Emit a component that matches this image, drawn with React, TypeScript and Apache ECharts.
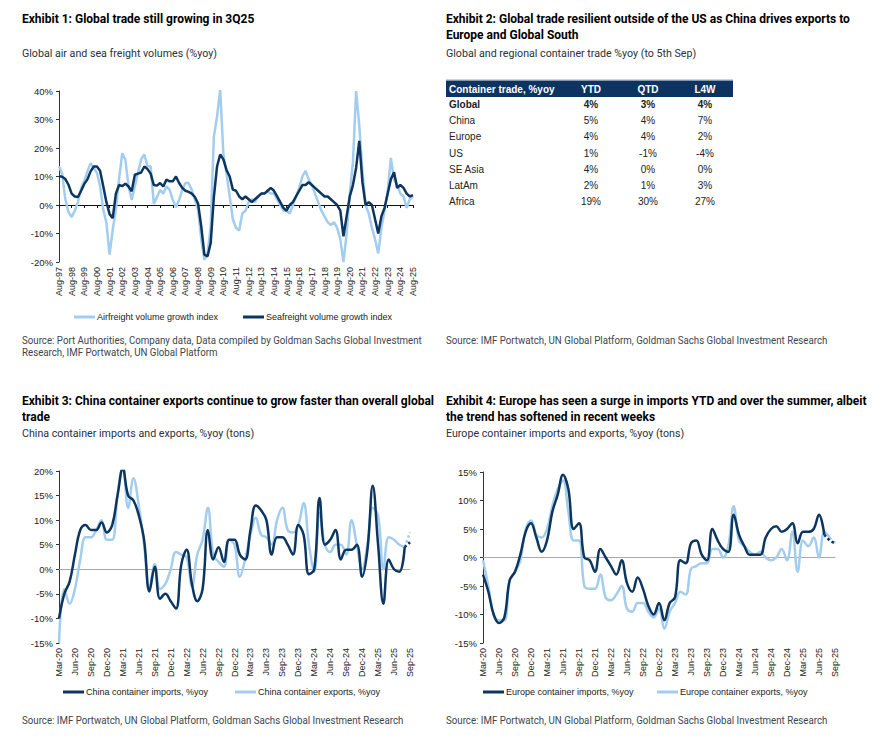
import React, { useEffect, useRef } from "react";
import * as echarts from "echarts";

// ---------- Exhibit 1 data (quarterly readings, Aug-97 .. Aug-25) ----------
const exhibit1Ticks = [
  "Aug-97","Aug-98","Aug-99","Aug-00","Aug-01","Aug-02","Aug-03","Aug-04","Aug-05","Aug-06",
  "Aug-07","Aug-08","Aug-09","Aug-10","Aug-11","Aug-12","Aug-13","Aug-14","Aug-15","Aug-16",
  "Aug-17","Aug-18","Aug-19","Aug-20","Aug-21","Aug-22","Aug-23","Aug-24","Aug-25",
];
const airfreightGrowth = [
  13.6, 11, 2, -2.5, -4.2, -2, 1, 6, 8.5, 11.8, 14.7, 13, 11.3, 6.6, -1.6, -6.3, -17.4, -8.6, -1.6, 9,
  18.2, 15.9, 6.6, 1.8, 6.6, 11.3, 16, 17.7, 13.6, 13.6, 0.4, 2.8, 5.3, 4, 6.6, 5.3, 1.8, -0.8, 1.8, 5.3,
  7.7, 7.7, 5.3, 1.8, -1.6, -12, -19.2, -17, -7.5, 24, 31, 40.5, 18, 11, 3, -5, -8, -9, -3, -2,
  1, 2, 1, 3, 4, 4, 5, 4, 4, 2, 0, -2, -2, -3, 0, 3, 6, 10, 12, 9,
  7, 4, 1, -2, -4, -6, -7, -6, -8, -12, -20, -10, 4, 15, 40, 28, 12, 0, -3, -8,
  -12, -17, -8, -2, 5, 16.5, 9, 7, 4, 3, -1, 2, 3,
];
const seafreightGrowth = [
  10.1, 9.9, 9.1, 7.1, 4, 3, 2.8, 5, 7.4, 9, 11.8, 13.5, 13.5, 12, 6.6, 1, -3.2, -4.6, 4, 7,
  6.6, 7.5, 6.5, 4.8, 10.6, 11, 11.4, 13.5, 12.6, 11, 7, 6.8, 7.7, 6.5, 8.9, 8.3, 8.3, 10, 7.7, 6,
  5, 4.6, 4, 2.8, 0.5, -7.5, -17.4, -18, -13.3, 2.8, 13.5, 17.7, 16, 12.3, 10, 5.4, 5, 3, 2, 3,
  2, 1, 2, 3, 4, 4, 5, 6, 5, 3, 1, -1, -2, 0, 1, 3, 5, 7, 7, 8,
  7, 6, 5, 4, 3, 3, 2, 1, 0, -2, -11, -4, 3, 7, 13, 22.5, 8, 0, 1, 0,
  -5, -10, -4, -1, 4, 9, 11.5, 6, 7, 6, 4, 3, 3.5,
];

// ---------- Exhibit 2 table ----------
const tableHeader = ["Container trade, %yoy", "YTD", "QTD", "L4W"];
const tableRegions = ["Global", "China", "Europe", "US", "SE Asia", "LatAm", "Africa"];
const tableYTD = ["4%", "5%", "4%", "1%", "4%", "2%", "19%"];
const tableQTD = ["3%", "4%", "4%", "-1%", "0%", "1%", "30%"];
const tableL4W = ["4%", "7%", "2%", "-4%", "0%", "3%", "27%"];

// ---------- Exhibits 3 & 4 (monthly readings, Mar-20 .. Sep-25) ----------
const quarterTicks = [
  "Mar-20","Jun-20","Sep-20","Dec-20","Mar-21","Jun-21","Sep-21","Dec-21","Mar-22","Jun-22",
  "Sep-22","Dec-22","Mar-23","Jun-23","Sep-23","Dec-23","Mar-24","Jun-24","Sep-24","Dec-24",
  "Mar-25","Jun-25","Sep-25",
];
const chinaImports = [
  -10, -5, -2.5, 3, 8, 9, 8, 8, 9.5, 7.5, 9, 15, 20.5, 15, 14, 11, 6, -4.5, 0.5, -6,
  -5, -6.5, -8, 1, 4, -3, -6.5, -4, 8, 2, 4.5, 1.5, 6, 6, 3, 2, 8, 13, 12, 10,
  3, 6.5, 6.5, 5, 3, 9, 7, -1, 0, 14.5, 5, 6, 8, 2, 4, 4, 5, -1.5, 4, 17,
  5, -7, 2, 0, -0.5, 4.5, 5.5,
];
const chinaExports = [
  -15, -4, -7, -4, 2, 6.5, 6.5, 8, 10, 6, 6, 15, 21, 12.5, 18.5, 13, 5, -4, 1, -4,
  -3, 0, 3.5, 3, 2.5, -3.5, 3, 6, 12.5, 3, 1.5, 0.5, 6, 5, -1.5, 2, 7, 10.5, 7, 6.5,
  5, 10, 12.5, 8, 7.5, 9, 13.5, 5, -0.5, 11.5, 5, 3.5, 5, 5, 3, 10, 5, 0, 5, 12.5,
  11, 0, 6.5, 6, 5, 4.5, 7.5,
];
const europeImports = [
  -3, -6, -10, -11.5, -10.5, -4, -2.5, 0.5, 4.5, 6, 3.5, 1, 3, 8, 11, 14.5, 12, 5, 6, 0,
  -0.5, -2.5, 1.5, 0, -1.5, -3, -0.5, -4.5, -6, -3.5, -5.5, -8.5, -10, -8, -11, -8, -7, -0.5, -1, 2.5,
  3, 0.5, -0.5, 5, 3, 1.5, 1, 7.5, 4, 2, 0.5, 0.5, 0.5, 3.5, 5, 5.5, 4.5, 5, 6, 2.5,
  4.5, 4.5, 5, 7.5, 4, 3, 2.5,
];
const europeExports = [
  -0.5, -5, -10, -11, -11, -4, -2.5, -0.5, 5, 6.5, 4, 3.5, 5, 9, 12, 13.5, 8, 3, 3, -5,
  -5.5, -5.5, -3, -7, -7.5, -6.5, -5, -9, -9.5, -8, -8, -9.5, -10.5, -9, -12.5, -9.5, -8, -6, -6.5, -2,
  -1.5, -1, -1, 1.5, 1.5, 0, 2, 9, 3, 2, 1, 0.5, 1, 0, -0.5, 0, 1.5, -0.5, 4.5, -2.5,
  3, 2, 3.5, 0, 4.5, 3.5, 2.5,
];

// ---------- helpers ----------
const MONTHS = ["Jan","Feb","Mar","Apr","May","Jun","Jul","Aug","Sep","Oct","Nov","Dec"];
function expandTicks(ticks: string[], stepMonths: number, perTick: number): string[] {
  const out: string[] = [];
  ticks.forEach((t, k) => {
    out.push(t);
    if (k === ticks.length - 1) return;
    let m = MONTHS.indexOf(t.slice(0, 3));
    let y = parseInt(t.slice(4), 10);
    for (let j = 1; j < perTick; j++) {
      m += stepMonths;
      if (m >= 12) { m -= 12; y = (y + 1) % 100; }
      out.push(MONTHS[m] + "-" + String(y).padStart(2, "0"));
    }
  });
  return out;
}

const DARK = "#0c365f";
const LIGHT = "#a3cdee";
const SANS = 'Roboto, "Liberation Sans", sans-serif';
const ARIAL = '"Liberation Sans", Arial, sans-serif';

function txt(x: number, y: number, t: string, font: string, fill: string, align = "left", sx = 1) {
  return {
    type: "text",
    x,
    y,
    scaleX: sx,
    silent: true,
    style: { text: t, font, fill, align, verticalAlign: "middle", textAlign: align, textVerticalAlign: "middle" },
  };
}

export default function App() {
  const ref = useRef<HTMLDivElement>(null);

  useEffect(() => {
    if (!ref.current) return;
    const chart = echarts.init(ref.current, undefined, { renderer: "svg" });

    const cats1 = expandTicks(exhibit1Ticks, 3, 4);
    const catsM = expandTicks(quarterTicks, 1, 3);
    const tickSet1 = new Set(exhibit1Ticks);
    const tickSetM = new Set(quarterTicks);
    const show1 = (_i: number, v: string) => tickSet1.has(v);
    const showM = (_i: number, v: string) => tickSetM.has(v);

    const labelX = (fn: any) => ({
      show: true,
      rotate: 90,
      interval: fn,
      hideOverlap: false,
      fontSize: 9,
      fontFamily: ARIAL,
      color: "#222",
      margin: 5,
    });

    const mkX = (grid: number, data: string[], fn: any) => ({
      type: "category",
      gridIndex: grid,
      data,
      boundaryGap: false,
      axisLine: { show: false, onZero: false },
      axisTick: { show: false },
      axisLabel: labelX(fn),
    });
    const mkZero = (grid: number, data: string[], fn: any, color: string, ticks: boolean) => ({
      type: "category",
      gridIndex: grid,
      data,
      boundaryGap: false,
      position: "bottom",
      axisLine: { show: true, onZero: true, lineStyle: { color, width: 1 } },
      axisTick: { show: ticks, interval: fn, length: 3, lineStyle: { color } },
      axisLabel: { show: false },
    });
    const mkY = (grid: number, min: number, max: number, interval: number) => ({
      type: "value",
      gridIndex: grid,
      min,
      max,
      interval,
      axisLine: { show: true, lineStyle: { color: "#333", width: 1 } },
      axisTick: { show: true, length: 3, lineStyle: { color: "#333" } },
      splitLine: { show: false },
      axisLabel: { formatter: "{value}%", fontSize: 9.5, fontFamily: ARIAL, color: "#222", margin: 6 },
    });

    const line = (name: string, xi: number, yi: number, data: any[], color: string, smooth: any, type = "solid", z = 2) => ({
      name,
      type: "line",
      xAxisIndex: xi,
      yAxisIndex: yi,
      data,
      showSymbol: false,
      symbol: "none",
      smooth,
      connectNulls: false,
      lineStyle: { color, width: 2.5, type },
      itemStyle: { color },
      z,
    });

    const tail = (arr: number[], from: number) => arr.map((v, i) => (i >= from ? v : null));

    const legendItem = (name: string, left: number, top: number) => ({
      data: [name],
      left,
      top,
      padding: 0,
      icon: "rect",
      itemWidth: 21,
      itemHeight: 3,
      itemGap: 0,
      selectedMode: false,
      textStyle: { fontSize: 9, fontFamily: ARIAL, color: "#222", padding: [0, 0, 0, -3] },
    });

    // ---- graphic texts & table ----
    const titleFont = "bold 12px " + SANS;
    const subFont = "11px " + SANS;
    const srcFont = "10.5px " + SANS;
    const TITLE = "#000";
    const SUB = "#27313c";
    const SRC = "#3c4550";
    const SUBX = 0.97;
    const SRCX = 0.925;
    const g: any[] = [
      txt(22, 19, "Exhibit 1: Global trade still growing in 3Q25", titleFont, TITLE),
      txt(22, 53, "Global air and sea freight volumes (%yoy)", subFont, SUB, "left", SUBX),
      txt(22, 340, "Source: Port Authorities, Company data, Data compiled by Goldman Sachs Global Investment", srcFont, SRC, "left", SRCX),
      txt(22, 352, "Research, IMF Portwatch, UN Global Platform", srcFont, SRC, "left", SRCX),
      txt(446, 19, "Exhibit 2: Global trade resilient outside of the US as China drives exports to", titleFont, TITLE),
      txt(446, 35, "Europe and Global South", titleFont, TITLE),
      txt(446, 53, "Global and regional container trade %yoy (to 5th Sep)", subFont, SUB, "left", SUBX),
      txt(446, 340, "Source: IMF Portwatch, UN Global Platform, Goldman Sachs Global Investment Research", srcFont, SRC, "left", SRCX),
      txt(22, 401, "Exhibit 3: China container exports continue to grow faster than overall global", titleFont, TITLE),
      txt(22, 417, "trade", titleFont, TITLE),
      txt(22, 433, "China container imports and exports, %yoy (tons)", subFont, SUB, "left", SUBX),
      txt(22, 720, "Source: IMF Portwatch, UN Global Platform, Goldman Sachs Global Investment Research", srcFont, SRC, "left", SRCX),
      txt(446, 401, "Exhibit 4: Europe has seen a surge in imports YTD and over the summer, albeit", titleFont, TITLE),
      txt(446, 417, "the trend has softened in recent weeks", titleFont, TITLE),
      txt(446, 433, "Europe container imports and exports, %yoy (tons)", subFont, SUB, "left", SUBX),
      txt(446, 720, "Source: IMF Portwatch, UN Global Platform, Goldman Sachs Global Investment Research", srcFont, SRC, "left", SRCX),
    ];
    // table
    g.push({ type: "line", silent: true, shape: { x1: 446, y1: 79.5, x2: 733, y2: 79.5 }, style: { stroke: "#cfd3d8", lineWidth: 1 } });
    g.push({ type: "rect", silent: true, shape: { x: 446, y: 80.5, width: 287, height: 16.5 }, style: { fill: "#0d3360" } });
    const colX = [449, 591, 648, 705];
    tableHeader.forEach((h, i) => {
      g.push(txt(colX[i], 89, h, "bold 10px " + ARIAL, "#fff", i === 0 ? "left" : "center"));
    });
    const rowTop = 104.5;
    const rowH = 16.2;
    tableRegions.forEach((r, i) => {
      const y = rowTop + i * rowH;
      const f = (i === 0 ? "bold " : "") + "10px " + ARIAL;
      g.push(txt(colX[0], y, r, f, "#222"));
      g.push(txt(colX[1], y, tableYTD[i], f, "#222", "center"));
      g.push(txt(colX[2], y, tableQTD[i], f, "#222", "center"));
      g.push(txt(colX[3], y, tableL4W[i], f, "#222", "center"));
    });

    const option: any = {
      animation: false,
      backgroundColor: "#fff",
      grid: [
        { left: 59, top: 91, width: 354, height: 171 },
        { left: 59, top: 471, width: 351, height: 172 },
        { left: 483, top: 472, width: 352, height: 171 },
      ],
      xAxis: [
        mkX(0, cats1, show1),
        mkZero(0, cats1, show1, "#111", true),
        mkX(1, catsM, showM),
        mkZero(1, catsM, showM, "#a8a8a8", false),
        mkX(2, catsM, showM),
        mkZero(2, catsM, showM, "#a8a8a8", false),
      ],
      yAxis: [mkY(0, -20, 40, 10), mkY(1, -15, 20, 5), mkY(2, -15, 15, 5)],
      legend: [
        legendItem("Airfreight volume growth index", 74, 312.5),
        legendItem("Seafreight volume growth index", 243, 312.5),
        legendItem("China container imports, %yoy", 63, 687.5),
        legendItem("China container exports, %yoy", 235, 687.5),
        legendItem("Europe container imports, %yoy", 483, 687.5),
        legendItem("Europe container exports, %yoy", 657, 687.5),
      ],
      series: [
        line("Airfreight volume growth index", 0, 0, airfreightGrowth, LIGHT, false, "solid", 2),
        line("Seafreight volume growth index", 0, 0, seafreightGrowth, DARK, false, "solid", 3),

        line("China container exports, %yoy", 2, 1, chinaExports.slice(0, 66), LIGHT, 0.4, "solid", 2),
        line("China container imports, %yoy", 2, 1, chinaImports.slice(0, 66), DARK, 0.4, "solid", 3),
        line("China exports (latest)", 2, 1, tail(chinaExports, 65), LIGHT, 0.4, "dotted", 2),
        line("China imports (latest)", 2, 1, tail(chinaImports, 65), DARK, 0.4, "dotted", 3),

        line("Europe container exports, %yoy", 4, 2, europeExports.slice(0, 66), LIGHT, 0.4, "solid", 2),
        line("Europe container imports, %yoy", 4, 2, europeImports.slice(0, 65), DARK, 0.4, "solid", 3),
        line("Europe exports (latest)", 4, 2, tail(europeExports, 65), LIGHT, 0.4, "dotted", 2),
        line("Europe imports (latest)", 4, 2, tail(europeImports, 64), DARK, 0.4, "dotted", 3),
      ],
      graphic: { elements: g },
    };

    chart.setOption(option);
    return () => chart.dispose();
  }, []);

  return (
    <div
      ref={ref}
      style={{ position: "absolute", left: 0, top: 0, width: 872, height: 744, background: "#fff" }}
    />
  );
}
